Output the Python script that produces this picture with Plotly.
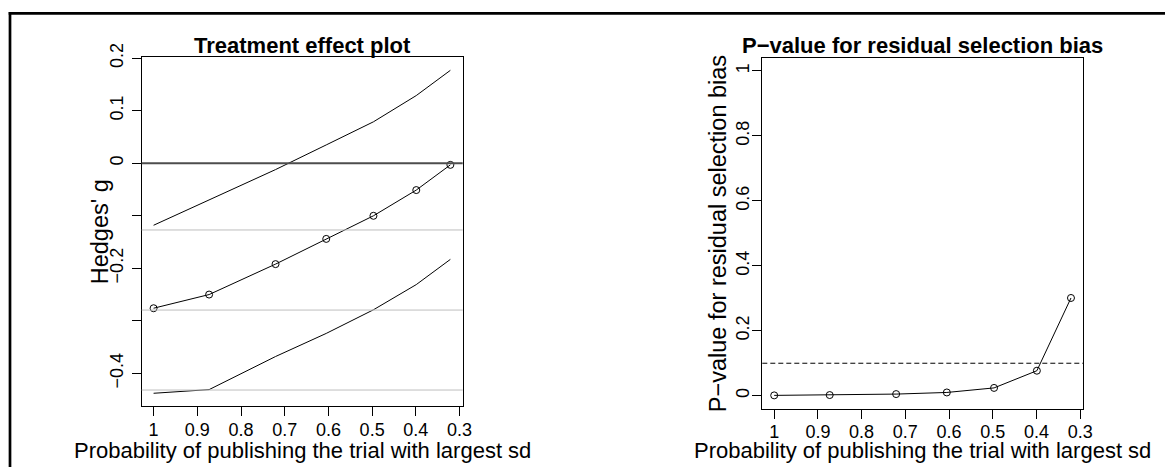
import plotly.graph_objects as go

# Figure size in pixels
W, H = 1165, 467
FONT = "Liberation Sans, Arial, Helvetica, sans-serif"

# Probability of publishing the trial with the largest sd
prob = [1.0, 0.873, 0.721, 0.605, 0.497, 0.399, 0.321]

# Bias-adjusted treatment effect (Hedges' g) with confidence limits
hedges_g = [-0.276, -0.250, -0.192, -0.144, -0.100, -0.051, -0.003]
ci_upper = [-0.118, -0.070, -0.012, 0.035, 0.079, 0.129, 0.177]
ci_lower = [-0.438, -0.431, -0.368, -0.324, -0.279, -0.231, -0.183]

# Unadjusted pooled estimate and its confidence limits
unadjusted = [-0.4318, -0.2795, -0.127]

# P-value for residual selection bias
pvalue = [0.001, 0.002, 0.005, 0.010, 0.024, 0.077, 0.301]
p_threshold = 0.1

# Tick marks and labels
x_ticks = [1.0, 0.9, 0.8, 0.7, 0.6, 0.5, 0.4, 0.3]
x_ticktext = ["1", "0.9", "0.8", "0.7", "0.6", "0.5", "0.4", "0.3"]
g_ticks = [-0.4, -0.3, -0.2, -0.1, 0.0, 0.1, 0.2]
g_ticktext = ["\u22120.4", "", "\u22120.2", "", "0", "0.1", "0.2"]
p_ticks = [0.0, 0.2, 0.4, 0.6, 0.8, 1.0]
p_ticktext = ["0", "0.2", "0.4", "0.6", "0.8", "1"]

# Axis limits
x_range = [1.0272, 0.2928]
g_range = [-0.4626, 0.2026]
p_range = [-0.04, 1.04]

# Panel boxes in pixels: (left, right, top, bottom)
left_box = (141.7, 462.7, 56.9, 406.2)
right_box = (762.3, 1083.3, 58.0, 408.7)


def px_x(v):
    return v / W


def px_y(v):
    return 1 - v / H


def xdom(box):
    return [px_x(box[0]), px_x(box[1])]


def ydom(box):
    return [px_y(box[3]), px_y(box[2])]


fig = go.Figure()

line_style = dict(color="black", width=1)
marker_style = dict(symbol="circle-open", size=7, color="black", line=dict(width=1, color="black"))

fig.add_trace(go.Scatter(x=prob, y=ci_upper, mode="lines", line=line_style,
                         xaxis="x", yaxis="y", showlegend=False))
fig.add_trace(go.Scatter(x=prob, y=ci_lower, mode="lines", line=line_style,
                         xaxis="x", yaxis="y", showlegend=False))
fig.add_trace(go.Scatter(x=prob, y=hedges_g, mode="lines+markers", line=line_style,
                         marker=marker_style, xaxis="x", yaxis="y", showlegend=False))
fig.add_trace(go.Scatter(x=prob, y=pvalue, mode="lines+markers", line=line_style,
                         marker=marker_style, xaxis="x2", yaxis="y2", showlegend=False))

axis_common = dict(
    showline=True, mirror=True, linecolor="black", linewidth=1,
    ticks="outside", ticklen=9, tickwidth=1, tickcolor="black",
    showgrid=False, zeroline=False, automargin=False,
    tickfont=dict(family=FONT, size=18, color="black"),
    tickmode="array",
)

fig.update_layout(
    width=W, height=H, autosize=False,
    margin=dict(l=0, r=0, t=0, b=0, pad=0),
    paper_bgcolor="white", plot_bgcolor="white",
    showlegend=False,
    xaxis=dict(domain=xdom(left_box), range=x_range, tickvals=x_ticks,
               ticktext=x_ticktext, anchor="y", ticklabelstandoff=-2, **axis_common),
    yaxis=dict(domain=ydom(left_box), range=g_range, tickvals=g_ticks,
               ticktext=g_ticktext, anchor="x", tickangle=-90,
               ticklabelstandoff=2, **axis_common),
    xaxis2=dict(domain=xdom(right_box), range=x_range, tickvals=x_ticks,
                ticktext=x_ticktext, anchor="y2", ticklabelstandoff=-2, **axis_common),
    yaxis2=dict(domain=ydom(right_box), range=p_range, tickvals=p_ticks,
                ticktext=p_ticktext, anchor="x2", tickangle=-90,
                ticklabelstandoff=-4, **axis_common),
)

shapes = []
# Zero reference line in the treatment effect panel
shapes.append(dict(type="line", xref="x domain", yref="y", x0=0, x1=1, y0=0, y1=0,
                   line=dict(color="#4d4d4d", width=2), layer="above"))
# Unadjusted estimate and confidence limits
for val in unadjusted:
    shapes.append(dict(type="line", xref="x domain", yref="y", x0=0, x1=1, y0=val, y1=val,
                       line=dict(color="#bebebe", width=1), layer="above"))
# Significance threshold in the p-value panel
shapes.append(dict(type="line", xref="x2 domain", yref="y2", x0=0, x1=1,
                   y0=p_threshold, y1=p_threshold,
                   line=dict(color="black", width=1, dash="5px,3px"), layer="above"))
# Outer frame edges
shapes.append(dict(type="line", xref="paper", yref="paper", x0=px_x(8.7), x1=1,
                   y0=px_y(13.3), y1=px_y(13.3), line=dict(color="black", width=2.7)))
shapes.append(dict(type="line", xref="paper", yref="paper", x0=px_x(10), x1=px_x(10),
                   y0=px_y(12), y1=0, line=dict(color="black", width=2.7)))
fig.update_layout(shapes=shapes)


def text(x_px, y_px, s, size, bold=False, angle=0):
    return dict(xref="paper", yref="paper", x=px_x(x_px), y=px_y(y_px),
                xanchor="center", yanchor="middle", showarrow=False, textangle=angle,
                text=f"<b>{s}</b>" if bold else s,
                font=dict(family=FONT, size=size, color="black"))


def cx(box):
    return (box[0] + box[1]) / 2


def cy(box):
    return (box[2] + box[3]) / 2


xlab = "Probability of publishing the trial with largest sd"
annotations = [
    text(cx(left_box), 45.3, "Treatment effect plot", 22, bold=True),
    text(cx(right_box), 45.3, "P\u2212value for residual selection bias", 22, bold=True),
    text(cx(left_box), 450, xlab, 22),
    text(cx(right_box), 450, xlab, 22),
    text(99.7, cy(left_box), "Hedges' g", 23.5, angle=-90),
    text(718.8, cy(right_box), "P\u2212value for residual selection bias", 23.5, angle=-90),
]
fig.update_layout(annotations=annotations)

fig.write_html("out.html")
